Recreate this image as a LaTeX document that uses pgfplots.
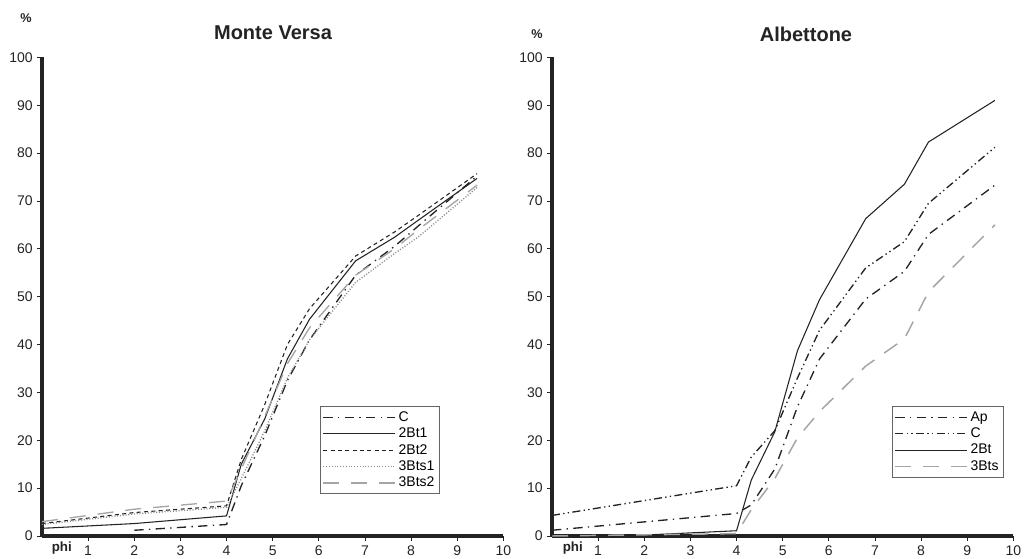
\documentclass[border=0pt]{standalone}
\usepackage{fontspec}
\setmainfont{Liberation Sans}
\usepackage{pgfplots}
\pgfplotsset{compat=1.18}

\definecolor{ink}{RGB}{35,35,35}
\definecolor{lgray}{RGB}{165,165,165}
\definecolor{mgray}{RGB}{140,140,140}

% shared look of both panels
\pgfplotsset{
  sedi/.style={
    scale only axis, width=346pt, height=359pt,
    xmin=0, xmax=10, ymin=0, ymax=100,
    axis x line*=bottom, axis y line*=left,
    x axis line style={-, line width=2.4pt, color=ink},
    y axis line style={-, line width=2.4pt, color=ink},
    every outer x axis line/.append style={line width=2.4pt},
    every outer y axis line/.append style={line width=2.4pt},
    xtick={1,...,10}, ytick={0,10,...,100},
    tick align=outside, major tick length=3.5pt,
    tick style={ink, line width=0.6pt},
    ticklabel style={font=\fontsize{10.5}{12}\selectfont, text=ink},
    /pgf/number format/assume math mode=true,
    clip=false,
    legend cell align=left,
    legend style={draw=ink!70, line width=0.7pt,
      font=\fontsize{10.5}{12}\selectfont, inner sep=1.5pt,
      row sep=-0.5pt, anchor=north west},
    legend image code/.code={\draw[#1] (0pt,0pt) -- (54pt,0pt);},
  },
  dashdot/.style={ink, line width=1pt, dash pattern=on 7pt off 4pt on 1pt off 4pt},
  dashdotdot/.style={ink, line width=1pt, dash pattern=on 6pt off 2.5pt on 1pt off 2.5pt on 1pt off 2.5pt},
}

\begin{document}
\begin{tikzpicture}
\begin{axis}[sedi, at={(31.5pt,16.5pt)}, anchor=south west,
    legend style={at={(0.603,0.271)}}]
  \addplot[dashdot] coordinates {
    (2,1.2) (4,2.4) (4.32,10.5) (4.83,21) (5.32,32.5) (5.8,41)
    (6.8,54.5) (7.64,60.5) (8.16,64.8) (9.43,75.2)};
  \addlegendentry{C}
  \addplot[ink, line width=0.8pt] coordinates {
    (0,1.6) (2,2.6) (4,4.2) (4.32,15) (4.83,24.5) (5.32,37) (5.8,45.3)
    (6.8,57.5) (7.64,62.4) (8.16,66) (9.43,74.7)};
  \addlegendentry{2Bt1}
  \addplot[ink, line width=0.8pt, dash pattern=on 3pt off 2.5pt] coordinates {
    (0,2.6) (2,4.9) (4,6.3) (4.32,16) (4.83,27.5) (5.32,40) (5.8,47.5)
    (6.8,58.5) (7.64,63.5) (8.16,67) (9.43,75.7)};
  \addlegendentry{2Bt2}
  \addplot[mgray, line width=1pt, dash pattern=on 0.8pt off 1.3pt] coordinates {
    (0,2.4) (2,4.6) (4,6) (4.32,12) (4.83,22) (5.32,33) (5.8,41)
    (6.8,53) (7.64,59) (8.16,62.5) (9.43,72.8)};
  \addlegendentry{3Bts1}
  \addplot[lgray, line width=1pt, dash pattern=on 12pt off 9pt] coordinates {
    (0,3) (2,5.6) (4,7.3) (4.32,14) (4.83,25) (5.32,36) (5.8,43.5)
    (6.8,54.5) (7.64,60) (8.16,64) (9.43,73.3)};
  \addlegendentry{3Bts2}
  \node[anchor=base, font=\bfseries\fontsize{10}{12}\selectfont, text=ink]
    at (axis cs:0.43,0) [yshift=-11.5pt] {phi};
\end{axis}

\begin{axis}[sedi, at={(414pt,16.5pt)}, anchor=south west,
    legend style={at={(0.737,0.271)}}]
  \addplot[dashdot] coordinates {
    (0,1.2) (4,4.7) (4.32,6.5) (4.83,14) (5.32,27) (5.8,37)
    (6.8,49.5) (7.64,55.3) (8.16,63) (9.6,73.3)};
  \addlegendentry{Ap}
  \addplot[dashdotdot] coordinates {
    (0,4.3) (4,10.5) (4.32,16.5) (4.83,22) (5.32,33) (5.8,43)
    (6.8,56) (7.64,61.5) (8.16,69.5) (9.6,81.2)};
  \addlegendentry{C}
  \addplot[ink, line width=0.8pt] coordinates {
    (0,0) (2,0.2) (4,1.1) (4.32,11.7) (4.83,21.8) (5.32,38.7) (5.8,49.4)
    (6.8,66.3) (7.64,73.5) (8.16,82.3) (9.6,91)};
  \addlegendentry{2Bt}
  \addplot[lgray, line width=1.1pt, dash pattern=on 12pt off 9pt] coordinates {
    (0,0) (4,0.5) (4.32,5.5) (4.83,12) (5.32,20.5) (5.8,26)
    (6.8,35.5) (7.64,41.2) (8.16,51) (9.6,65)};
  \addlegendentry{3Bts}
  \node[anchor=base, font=\bfseries\fontsize{10}{12}\selectfont, text=ink]
    at (axis cs:0.45,0) [yshift=-11.5pt] {phi};
\end{axis}

\node[font=\bfseries\fontsize{15}{18}\selectfont, text=ink] at (204.75pt,393.75pt) {Monte Versa};
\node[font=\bfseries\fontsize{15}{18}\selectfont, text=ink] at (604.5pt,393pt) {Albettone};
\node[font=\bfseries\fontsize{9.5}{11}\selectfont, text=ink] at (19.5pt,405pt) {\%};
\node[font=\bfseries\fontsize{9.5}{11}\selectfont, text=ink] at (402.75pt,393pt) {\%};

\pgfresetboundingbox
\useasboundingbox (0,0) rectangle (771.75pt,418.5pt);
\end{tikzpicture}
\end{document}
